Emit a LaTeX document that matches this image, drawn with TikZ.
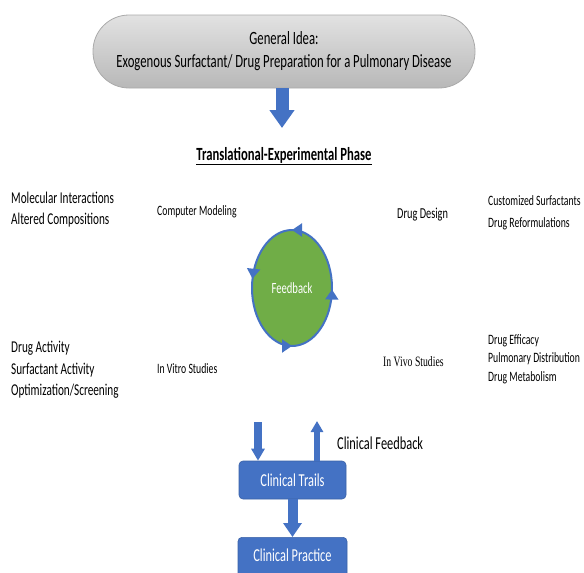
\documentclass[tikz,border=0pt]{standalone}
\usepackage{fontspec}
\setmainfont[FakeStretch=0.68]{Carlito}
\newfontfamily\tnr[FakeStretch=0.68]{Liberation Serif}
\usetikzlibrary{arrows.meta,decorations.markings}
\definecolor{cblue}{HTML}{4472C4}
\definecolor{cgreen}{HTML}{70AD47}
\definecolor{gtop}{RGB}{226,226,226}
\definecolor{gbot}{RGB}{184,184,184}
\definecolor{gedge}{RGB}{170,170,170}
\newcommand{\fs}[2]{\fontsize{#1}{#2}\selectfont}
\begin{document}
\begin{tikzpicture}[x=1pt,y=-1pt,
  pill/.style={draw=gedge, line width=0.8pt, top color=gtop, bottom color=gbot,
     rounded corners=36pt, minimum width=382pt, minimum height=73pt, inner sep=0pt,
     align=center, font=\fs{18.7}{23}},
  plain/.style={inner sep=0pt, anchor=west, align=left},
  clinbox/.style={fill=cblue, draw=cblue!85!black, line width=0.6pt, rounded corners=4pt,
     inner sep=0pt, text=white, font=\fs{18.2}{20}},
  blockarrow/.style={draw=cblue, line cap=butt},
]
\useasboundingbox (0,0) rectangle (584,573);

% top idea box
\node[pill] (idea) at (284,51.5) {General Idea:\\Exogenous Surfactant/ Drug Preparation for a Pulmonary Disease};
\coordinate (ideatip) at (282,128);
\draw[blockarrow, line width=13pt, -{Triangle[length=18pt,width=24pt]}] (idea.south -| ideatip) -- (ideatip);

% title
\node[inner sep=0pt, anchor=base, font=\bfseries\fs{18.6}{20}] (title) at (284,160) {\underline{Translational-Experimental Phase}};

% side lists
\node[plain, font=\fs{16.5}{21}] (molec) at (11,210) {Molecular Interactions\\Altered Compositions};
\node[plain, font=\fs{14.3}{16}] (comp) at (157,212) {Computer Modeling};
\node[plain, font=\fs{15.2}{16}] (design) at (397,215) {Drug Design};
\node[plain, font=\fs{14.3}{22}] (custom) at (488,213) {Customized Surfactants\\Drug Reformulations};

\node[plain, font=\fs{16.5}{21.5}] (activ) at (11,370) {Drug Activity\\Surfactant Activity\\Optimization/Screening};
\node[plain, font=\fs{14.3}{16}] (vitro) at (157,369) {In Vitro Studies};
\node[plain, font=\tnr\fs{14.3}{16}] (vivo) at (383,362) {In Vivo Studies};
\node[plain, font=\fs{14.3}{18.5}] (effic) at (488,359) {Drug Efficacy\\Pulmonary Distribution\\Drug Metabolism};

% feedback cycle
\coordinate (fbc) at (292,288);
\path[draw=cblue, fill=cgreen, line width=2pt,
  postaction={decorate, decoration={markings,
    mark=at position 0.005 with {\arrowreversed[cblue]{Triangle[length=10pt,width=13pt]}},
    mark=at position 0.25 with {\arrowreversed[cblue]{Triangle[length=10pt,width=13pt]}},
    mark=at position 0.53 with {\arrowreversed[cblue]{Triangle[length=10pt,width=13pt]}},
    mark=at position 0.75 with {\arrowreversed[cblue]{Triangle[length=10pt,width=13pt]}}}}]
  (fbc) ellipse [x radius=40, y radius=58];
\node[text=white, inner sep=0pt, font=\fs{15.6}{16}] (fb) at (fbc) {Feedback};

% clinical part
\node[clinbox, minimum width=107pt, minimum height=38pt] (trails) at (292.5,480) {Clinical Trails};
\begin{scope}
\clip (0,0) rectangle (584,573);
\node[clinbox, minimum width=109pt, minimum height=46pt, anchor=north] (practice) at (292.5,537) {};
\end{scope}
\node[text=white, inner sep=0pt, font=\fs{18.2}{20}] (practicetxt) at (292.5,555) {Clinical Practice};

\coordinate (downtop) at (258,422);
\coordinate (uptop) at (317,421);
\draw[blockarrow, line width=8pt, -{Triangle[length=12pt,width=13pt]}] (downtop) -- (downtop |- trails.north);
\draw[blockarrow, line width=6pt, -{Triangle[length=11pt,width=12pt]}] (uptop |- trails.north) -- (uptop);
\draw[blockarrow, line width=10pt, -{Triangle[length=14pt,width=18pt]}] (trails.south -| practice.north) -- (practice.north);

\node[plain, font=\fs{18.2}{20}] (clinfb) at (337,443) {Clinical Feedback};
\end{tikzpicture}
\end{document}
